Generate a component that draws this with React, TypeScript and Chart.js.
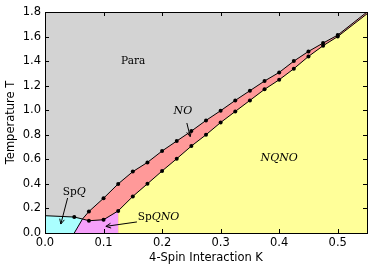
import React, { useEffect, useRef } from 'react';
import { Chart, registerables } from 'chart.js';

Chart.register(...registerables);

// Para / NO boundary
const kUpper = [0.064, 0.075, 0.1, 0.125, 0.15, 0.175, 0.2, 0.225, 0.25, 0.275, 0.3, 0.325, 0.35, 0.375, 0.4, 0.425, 0.45, 0.475, 0.5, 0.55];
const tUpper = [0.114, 0.175, 0.283, 0.40, 0.50, 0.575, 0.668, 0.749, 0.83, 0.917, 0.996, 1.08, 1.159, 1.238, 1.308, 1.40, 1.479, 1.547, 1.612, 1.8];
const upperMarked = [false, true, true, true, true, true, true, true, true, true, true, true, true, true, true, true, true, true, true, false];

// NO / NQNO boundary
const kLower = [0.125, 0.15, 0.175, 0.2, 0.225, 0.25, 0.275, 0.3, 0.325, 0.35, 0.375, 0.4, 0.425, 0.45, 0.475, 0.5, 0.55];
const tLower = [0.18, 0.298, 0.401, 0.505, 0.605, 0.708, 0.80, 0.90, 0.99, 1.08, 1.17, 1.248, 1.338, 1.438, 1.525, 1.60, 1.785];
const lowerMarked = [true, true, true, true, true, true, true, true, true, true, true, true, true, true, true, true, false];

// SpQ boundary
const kSpq = [0, 0.05, 0.064];
const tSpq = [0.141, 0.13, 0.114];
const spqMarked = [false, true, false];

// SpQNO boundary
const kSpqno = [0.05, 0.064, 0.075, 0.1, 0.125];
const tSpqno = [0, 0.114, 0.10, 0.108, 0.18];
const spqnoMarked = [false, false, true, true, false];

const xTicks = [0, 0.1, 0.2, 0.3, 0.4, 0.5];
const xTickLabels = ['0.0', '0.1', '0.2', '0.3', '0.4', '0.5'];
const yTicks = [0, 0.2, 0.4, 0.6, 0.8, 1.0, 1.2, 1.4, 1.6, 1.8];
const yTickLabels = ['0.0', '0.2', '0.4', '0.6', '0.8', '1.0', '1.2', '1.4', '1.6', '1.8'];

// Region labels
const labelRoman = ['Para', '', '', 'Sp', 'Sp'];
const labelItalic = ['', 'NO', 'NQNO', 'Q', 'QNO'];
const labelK = [0.1506, 0.2355, 0.40, 0.05, 0.194];
const labelT = [1.40, 0.99, 0.61, 0.334, 0.13];

// Arrows (from -> to)
const arrowFromK = [0.2423, 0.0386, 0.157];
const arrowFromT = [0.896, 0.285, 0.09];
const arrowToK = [0.248, 0.027, 0.104];
const arrowToT = [0.785, 0.073, 0.054];

const GRAY = '#d3d3d3';
const RED = '#ff9999';
const YELLOW = '#ffff99';
const CYAN = '#aaffff';
const MAGENTA = '#f5a0fa';

const pts = (ks: number[], ts: number[]) => ks.map((k, i) => ({ x: k, y: ts[i] }));
const radii = (m: boolean[]) => m.map((b) => (b ? 2 : 0));

const bgPlugin = {
  id: 'bgArea',
  beforeDraw(chart: any) {
    const { ctx, chartArea } = chart;
    ctx.save();
    ctx.fillStyle = GRAY;
    ctx.fillRect(chartArea.left, chartArea.top, chartArea.right - chartArea.left, chartArea.bottom - chartArea.top);
    ctx.restore();
  },
};

function drawArrow(ctx: CanvasRenderingContext2D, x1: number, y1: number, x2: number, y2: number) {
  ctx.beginPath();
  ctx.moveTo(x1, y1);
  ctx.lineTo(x2, y2);
  ctx.stroke();
  const a = Math.atan2(y2 - y1, x2 - x1);
  const L = 5.5;
  const w = 0.45;
  ctx.beginPath();
  ctx.moveTo(x2 - L * Math.cos(a - w), y2 - L * Math.sin(a - w));
  ctx.lineTo(x2, y2);
  ctx.lineTo(x2 - L * Math.cos(a + w), y2 - L * Math.sin(a + w));
  ctx.stroke();
}

const overlayPlugin = {
  id: 'overlay',
  afterDatasetsDraw(chart: any) {
    const { ctx, chartArea } = chart;
    const xs = chart.scales.x;
    const ys = chart.scales.y;
    const { left, right, top, bottom } = chartArea;
    ctx.save();
    ctx.strokeStyle = '#000';
    ctx.lineWidth = 1;
    // inward ticks
    const tl = 4;
    ctx.beginPath();
    xTicks.forEach((v) => {
      const px = Math.round(xs.getPixelForValue(v)) + 0.5;
      ctx.moveTo(px, bottom);
      ctx.lineTo(px, bottom - tl);
      ctx.moveTo(px, top);
      ctx.lineTo(px, top + tl);
    });
    yTicks.forEach((v) => {
      const py = Math.round(ys.getPixelForValue(v)) + 0.5;
      ctx.moveTo(left, py);
      ctx.lineTo(left + tl, py);
      ctx.moveTo(right, py);
      ctx.lineTo(right - tl, py);
    });
    ctx.stroke();
    // frame
    ctx.strokeRect(Math.round(left) + 0.5, Math.round(top) + 0.5, Math.round(right - left), Math.round(bottom - top));

    // labels
    ctx.fillStyle = '#000';
    ctx.textBaseline = 'middle';
    ctx.textAlign = 'left';
    const romanFont = '10.5px "DejaVu Serif"';
    const italicFont = 'italic 11px "DejaVu Serif"';
    labelRoman.forEach((r, i) => {
      const it = labelItalic[i];
      ctx.font = romanFont;
      const wr = ctx.measureText(r).width;
      ctx.font = italicFont;
      const wi = ctx.measureText(it).width;
      const cx = xs.getPixelForValue(labelK[i]);
      const cy = ys.getPixelForValue(labelT[i]);
      let x0 = cx - (wr + wi) / 2;
      if (r) {
        ctx.font = romanFont;
        ctx.fillText(r, x0, cy);
        x0 += wr;
      }
      if (it) {
        ctx.font = italicFont;
        ctx.fillText(it, x0, cy);
      }
    });

    // arrows
    ctx.lineWidth = 1;
    arrowFromK.forEach((k, i) => {
      drawArrow(
        ctx,
        xs.getPixelForValue(k),
        ys.getPixelForValue(arrowFromT[i]),
        xs.getPixelForValue(arrowToK[i]),
        ys.getPixelForValue(arrowToT[i])
      );
    });
    ctx.restore();
  },
};

const lineDs = (data: any, fillColor: string, marked: boolean[]) => ({
  data,
  borderColor: '#000',
  borderWidth: 1,
  backgroundColor: fillColor,
  fill: 'origin',
  pointRadius: radii(marked),
  pointBackgroundColor: '#000',
  pointBorderWidth: 0,
  pointHoverRadius: radii(marked),
  tension: 0,
});

export default function App() {
  const ref = useRef<HTMLCanvasElement>(null);
  useEffect(() => {
    if (!ref.current) return;
    const tickFont = { family: '"DejaVu Sans"', size: 11.5 };
    const chart = new Chart(ref.current, {
      type: 'line',
      data: {
        datasets: [
          lineDs(pts(kLower, tLower), YELLOW, lowerMarked),
          lineDs(pts(kSpqno, tSpqno), MAGENTA, spqnoMarked),
          lineDs(pts(kSpq, tSpq), CYAN, spqMarked),
          lineDs(pts(kUpper, tUpper), RED, upperMarked),
        ] as any,
      },
      options: {
        animation: false,
        responsive: false,
        events: [],
        layout: { padding: { top: 12, right: 7, left: 0, bottom: 0 } },
        plugins: {
          legend: { display: false },
          tooltip: { enabled: false },
          filler: { drawTime: 'beforeDatasetsDraw' } as any,
        },
        scales: {
          x: {
            type: 'linear',
            min: 0,
            max: 0.55,
            grid: { display: false, drawTicks: false },
            border: { display: false },
            afterBuildTicks: (s: any) => {
              s.ticks = xTicks.map((v) => ({ value: v }));
            },
            afterFit: (s: any) => {
              s.height = 40;
            },
            ticks: {
              color: '#000',
              font: tickFont,
              padding: 3,
              maxRotation: 0,
              autoSkip: false,
              callback: (_v: any, i: number) => xTickLabels[i],
            },
            title: {
              display: true,
              text: '4-Spin Interaction K',
              color: '#000',
              font: tickFont,
              padding: { top: 0, bottom: 8.4 },
            },
          },
          y: {
            type: 'linear',
            min: 0,
            max: 1.8,
            grid: { display: false, drawTicks: false },
            border: { display: false },
            afterBuildTicks: (s: any) => {
              s.ticks = yTicks.map((v) => ({ value: v }));
            },
            afterFit: (s: any) => {
              s.width = 45;
            },
            ticks: {
              color: '#000',
              font: tickFont,
              padding: 4,
              autoSkip: false,
              callback: (_v: any, i: number) => yTickLabels[i],
            },
            title: {
              display: true,
              text: 'Temperature T',
              color: '#000',
              font: tickFont,
              padding: { top: 4.6, bottom: 0 },
            },
          },
        },
      },
      plugins: [bgPlugin, overlayPlugin],
    } as any);
    return () => chart.destroy();
  }, []);
  return (
    <div style={{ position: 'absolute', left: 0, top: 0, width: 374, height: 273 }}>
      <canvas ref={ref} width={374} height={273} style={{ display: 'block' }} />
    </div>
  );
}
